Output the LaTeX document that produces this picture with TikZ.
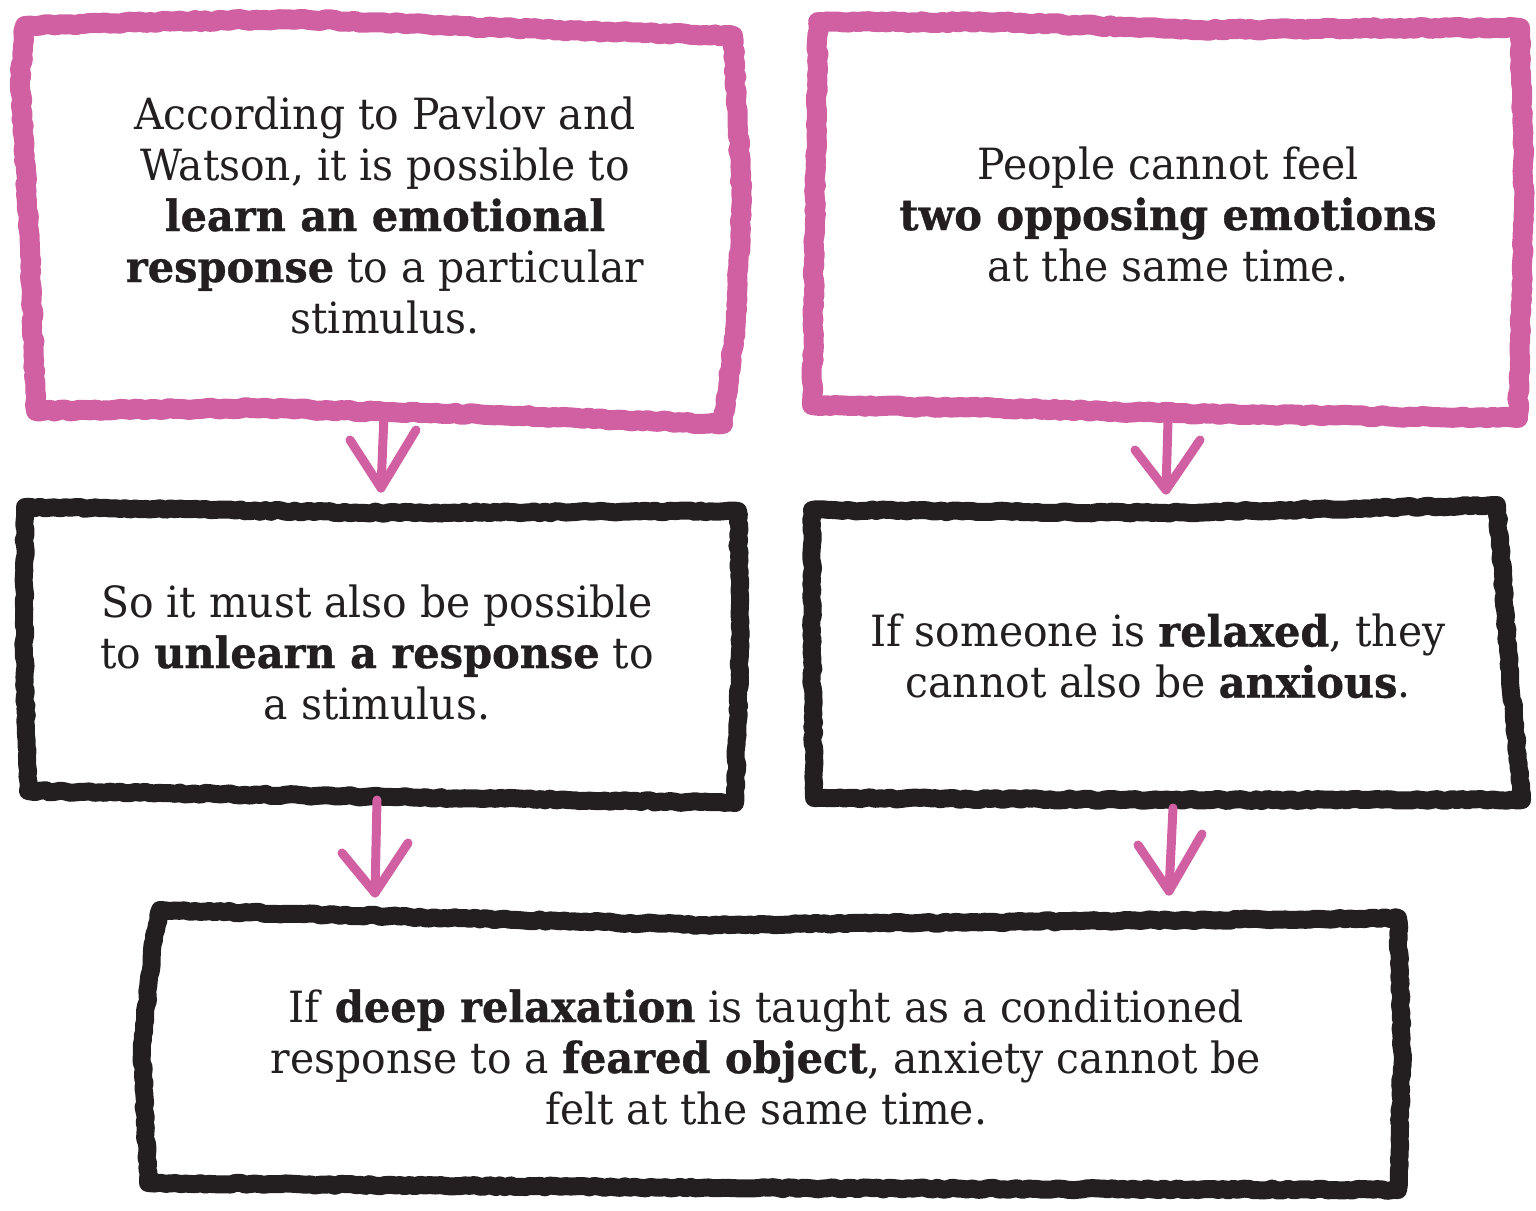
\documentclass[tikz,border=0pt]{standalone}
\usepackage{fontspec}
\setmainfont{DejaVu Serif}[FakeStretch=0.95, BoldFeatures={FakeStretch=0.965, FakeBold=0.8}]
\usetikzlibrary{decorations.pathmorphing}
\definecolor{pinkc}{RGB}{209,96,163}
\definecolor{inkc}{RGB}{35,31,32}
\begin{document}
\begin{tikzpicture}[x=0.5pt,y=-0.5pt,
  pbox/.style={draw=pinkc, line width=10pt, line join=round, decorate,
    decoration={random steps, segment length=2.5pt, amplitude=0.55pt}},
  kbox/.style={draw=inkc, line width=9pt, line join=round, decorate,
    decoration={random steps, segment length=2.5pt, amplitude=0.55pt}},
  arr/.style={draw=pinkc, line width=4.5pt, line cap=round, line join=round},
  txt/.style={font=\fontsize{21.5}{25.5}\selectfont, text=inkc, align=center, inner sep=0pt}]
\pgfmathsetseed{7}
\useasboundingbox (0,0) rectangle (1536,1210);
% boxes
\draw[pbox] (25,26) -- (150,22) -- (300,19) -- (500,28) -- (733,36) -- (742,200) -- (735,330) -- (723,424) -- (500,415) -- (250,408) -- (36,411) -- (30,250) -- (20,80) -- cycle;
\draw[pbox] (818,22) -- (1000,22) -- (1200,30) -- (1400,28) -- (1520,28) -- (1524,200) -- (1518,418) -- (1200,414) -- (1000,408) -- (812,405) -- (815,200) -- cycle;
\draw[kbox] (25,507) -- (400,513) -- (738,511) -- (740,650) -- (735,803) -- (400,797) -- (28,791) -- (24,650) -- cycle;
\draw[kbox] (812,510) -- (1160,513) -- (1497,505) -- (1508,650) -- (1522,800) -- (1160,800) -- (814,798) -- (812,650) -- cycle;
\draw[kbox] (160,910) -- (700,925) -- (1398,918) -- (1402,1050) -- (1398,1190) -- (700,1188) -- (148,1183) -- (142,1050) -- (152,950) -- cycle;
% texts
\node[txt] (t1) at (385,215) {According to Pavlov and\\ Watson, it is possible to\\ \textbf{learn an emotional}\\ \textbf{response} to a particular\\ stimulus.};
\node[txt] (t2) at (1168,214) {People cannot feel\\ \textbf{two opposing emotions}\\ at the same time.};
\node[txt] (t3) at (377,652) {So it must also be possible\\ to \textbf{unlearn a response} to\\ a stimulus.};
\node[txt] (t4) at (1158,656) {If someone is \textbf{relaxed}, they\\ cannot also be \textbf{anxious}.};
\node[txt] (t5) at (766,1057) {If \textbf{deep relaxation} is taught as a conditioned\\ response to a \textbf{feared object}, anxiety cannot be\\ felt at the same time.};
% arrow coordinates
\coordinate (a1s) at (384,415); \coordinate (a1t) at (381,488); \coordinate (a1l) at (350,440); \coordinate (a1r) at (416,430);
\coordinate (a2s) at (1168,420); \coordinate (a2t) at (1166,490); \coordinate (a2l) at (1135,450); \coordinate (a2r) at (1200,440);
\coordinate (a3s) at (377,800); \coordinate (a3t) at (375,893); \coordinate (a3l) at (342,853); \coordinate (a3r) at (408,843);
\coordinate (a4s) at (1173,808); \coordinate (a4t) at (1169,891); \coordinate (a4l) at (1138,845); \coordinate (a4r) at (1202,834);
\foreach \i in {1,2,3,4}{
  \draw[arr] (a\i s) -- (a\i t);
  \draw[arr] (a\i l) -- (a\i t) -- (a\i r);
}
\end{tikzpicture}
\end{document}
